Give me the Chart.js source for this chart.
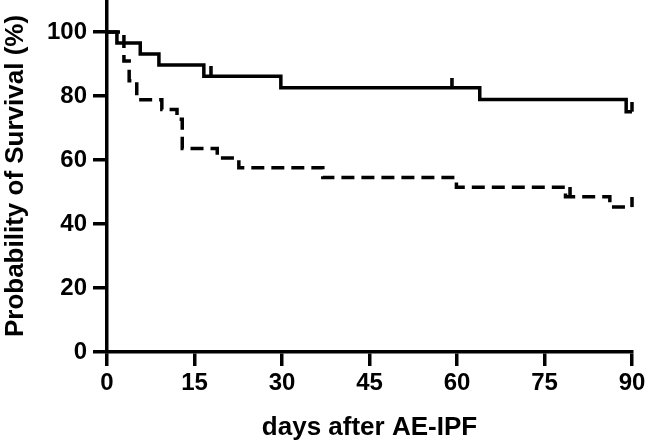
<!DOCTYPE html>
<html>
<head>
<meta charset="utf-8">
<script src="https://cdn.jsdelivr.net/npm/chart.js@4/dist/chart.umd.min.js"></script>
<style>
  html, body { margin: 0; padding: 0; background: #fff; }
  #grafico { display: block; }
</style>
</head>
<body>
<canvas id="grafico" width="646" height="447"></canvas>
<script>
// grupo 1 (linha cheia)
const diasGrupo1 = [0, 1.7, 5.7, 8.9, 16.6, 29.8, 63.9, 89, 90];
const survGrupo1 = [100, 96.6, 93.1, 89.7, 86.2, 82.6, 78.9, 75.1, 75.1];
const censDias1 = [17.8, 59.1, 90];
const censSurv1 = [86.2, 82.6, 75.1];

// grupo 2 (tracejado)
const diasGrupo2 = [0, 2.9, 3.8, 5.1, 9.4, 12.0, 12.9, 18.9, 22.6, 37.0, 59.9, 78.6, 86.2, 90];
const survGrupo2 = [100, 90.9, 84.8, 78.8, 75.8, 72.7, 63.6, 60.6, 57.6, 54.5, 51.5, 48.5, 45.3, 45.3];
const censDias2 = [79.4, 90];
const censSurv2 = [48.5, 45.3];

const ticksX = [0, 15, 30, 45, 60, 75, 90];
const ticksY = [0, 20, 40, 60, 80, 100];

const fonte = { family: "'Liberation Sans', Arial, sans-serif", weight: "bold" };

function pontos(xs, ys) {
  return xs.map((x, i) => ({ x: x, y: ys[i] }));
}

// marca de censura: tracinho vertical acima da linha
function marcaCensura() {
  const c = document.createElement("canvas");
  c.width = 4;
  c.height = 20;
  const g = c.getContext("2d");
  g.fillStyle = "#000";
  g.fillRect(0.25, 0, 3.5, 10);
  return c;
}
const marca = marcaCensura();

new Chart(document.getElementById("grafico"), {
  type: "line",
  data: {
    datasets: [
      {
        data: pontos(diasGrupo1, survGrupo1),
        borderColor: "#000",
        borderWidth: 3.5,
        stepped: "before",
        pointRadius: 0,
        borderJoinStyle: "miter",
        fill: false,
        clip: 6,
      },
      {
        data: pontos(diasGrupo2, survGrupo2),
        borderColor: "#000",
        borderWidth: 3.5,
        borderDash: [13, 7],
        borderCapStyle: "butt",
        stepped: "before",
        pointRadius: 0,
        borderJoinStyle: "miter",
        fill: false,
        clip: 6,
      },
      {
        type: "scatter",
        data: pontos(censDias1, censSurv1),
        pointStyle: marca,
        pointRadius: 5,
        showLine: false,
        clip: 6,
      },
      {
        type: "scatter",
        data: pontos(censDias2, censSurv2),
        pointStyle: marca,
        pointRadius: 5,
        showLine: false,
        clip: 6,
      },
    ],
  },
  options: {
    responsive: false,
    animation: false,
    layout: { autoPadding: false, padding: { top: 0, right: 14, left: 0, bottom: 0 } },
    plugins: { legend: { display: false }, tooltip: { enabled: false } },
    scales: {
      x: {
        type: "linear",
        min: 0,
        max: 90,
        afterBuildTicks: (s) => { s.ticks = ticksX.map((v) => ({ value: v })); },
        afterFit: (s) => {
          s.height = 95;
          s.paddingLeft = 0;
          s.paddingRight = 0;
        },
        border: { color: "#000", width: 3.5 },
        grid: { drawOnChartArea: false, color: "#000", lineWidth: 3.5, tickLength: 14 },
        ticks: { color: "#000", font: { ...fonte, size: 24 }, padding: 3, maxRotation: 0 },
        title: {
          display: true,
          text: "days after AE-IPF",
          color: "#000",
          font: { ...fonte, size: 26 },
          padding: { top: 0, bottom: 4 },
        },
      },
      y: {
        min: 0,
        max: 110,
        afterBuildTicks: (s) => { s.ticks = ticksY.map((v) => ({ value: v })); },
        afterFit: (s) => {
          s.width = 107;
          s.paddingTop = 0;
          s.paddingBottom = 0;
        },
        border: { color: "#000", width: 3.5 },
        grid: { drawOnChartArea: false, color: "#000", lineWidth: 3.5, tickLength: 14 },
        ticks: { color: "#000", font: { ...fonte, size: 24 }, padding: 6 },
        title: {
          display: true,
          text: "Probability of Survival (%)",
          color: "#000",
          font: { ...fonte, size: 26 },
          padding: { top: 0, bottom: 0 },
        },
      },
    },
  },
});
</script>
</body>
</html>
